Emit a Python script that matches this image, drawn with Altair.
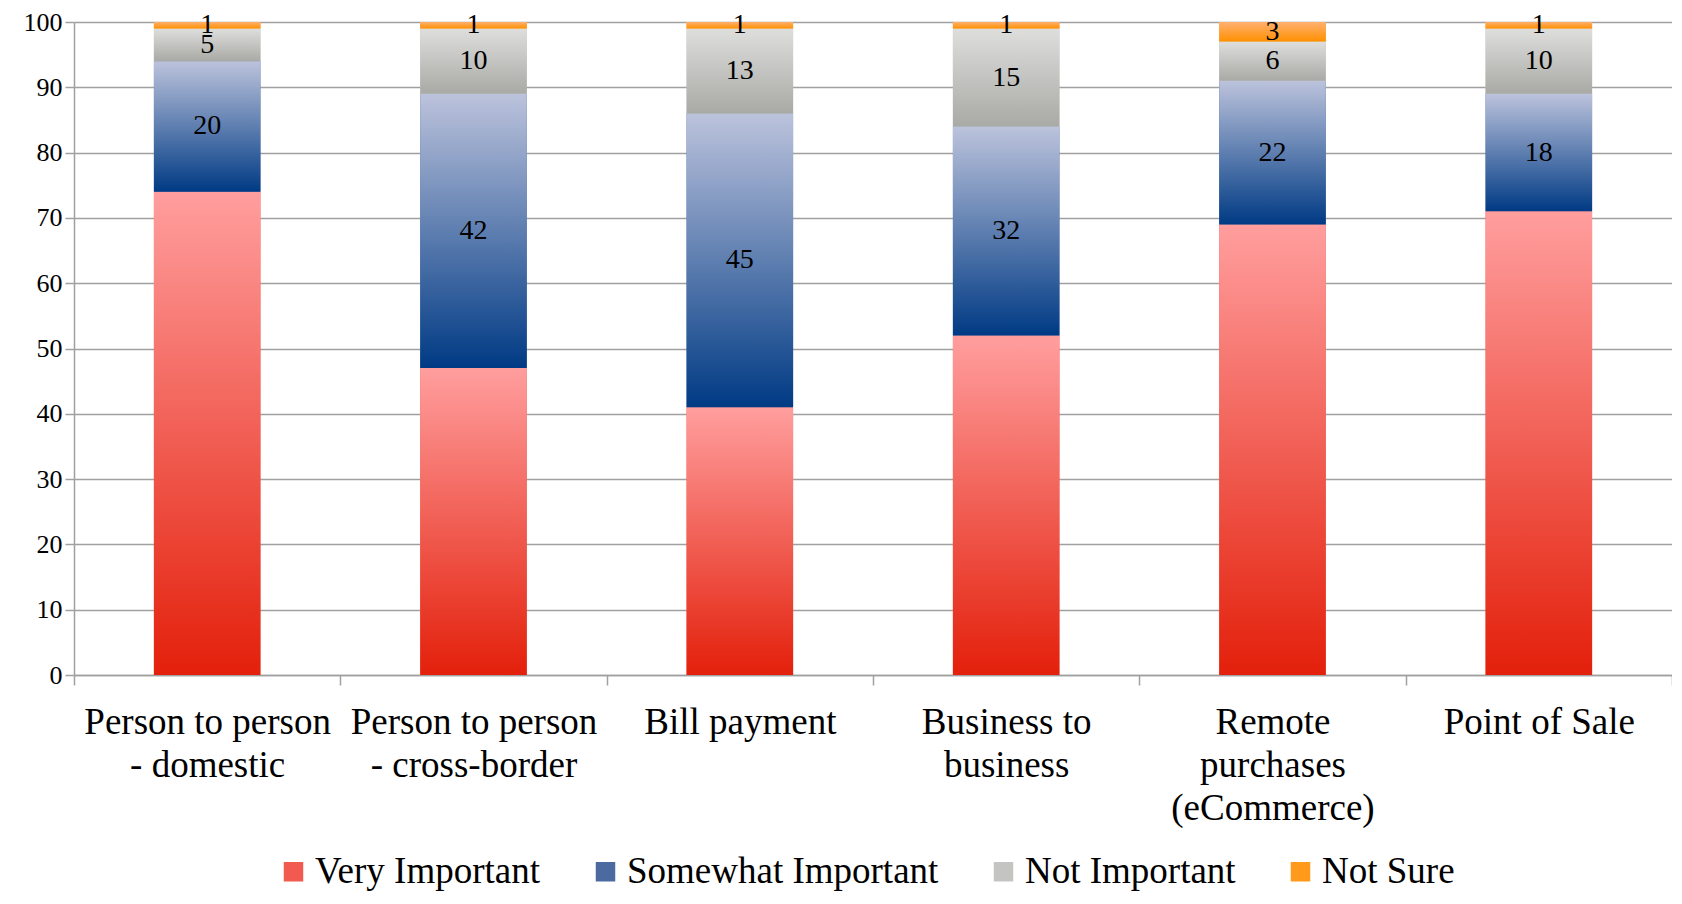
import altair as alt
import pandas as pd

categories = [
    "Person to person\n- domestic",
    "Person to person\n- cross-border",
    "Bill payment",
    "Business to\nbusiness",
    "Remote\npurchases\n(eCommerce)",
    "Point of Sale",
]
series = ["Very Important", "Somewhat Important", "Not Important", "Not Sure"]
very_important = [74, 47, 41, 52, 69, 71]
somewhat_important = [20, 42, 45, 32, 22, 18]
not_important = [5, 10, 13, 15, 6, 10]
not_sure = [1, 1, 1, 1, 3, 1]

solid = ["#F25A50", "#4A6AA0", "#C4C4C2", "#FF9A1A"]
grad_top = ["#FF9E9E", "#BCC3DC", "#DEDEDD", "#FFB070"]
grad_bot = ["#E3200B", "#003A84", "#A9A9A5", "#FF9000"]

rows = []
for si, (name, vals) in enumerate(zip(series, [very_important, somewhat_important, not_important, not_sure])):
    for c, v in zip(categories, vals):
        rows.append({"category": c, "series": name, "value": v, "order": si})
df = pd.DataFrame(rows)

FONT = "Liberation Serif"
BAR_W = alt.RelativeBandSize(0.4)

base = alt.Chart(df).transform_stack(
    stack="value", groupby=["category"], as_=["y0", "y1"], sort=[alt.SortField("order", "ascending")]
)

x_enc = alt.X(
    "category:N",
    sort=categories,
    scale=alt.Scale(paddingInner=0, paddingOuter=0),
    axis=alt.Axis(
        title=None,
        labelExpr="split(datum.label, '\\n')",
        labelAngle=0,
        labelFont=FONT,
        labelFontSize=37,
        labelLineHeight=43,
        labelColor="black",
        labelPadding=19,
        labelBaseline="top",
        labelLimit=400,
        tickBand="extent",
        tickSize=10,
        tickColor="#A0A0A0",
        tickWidth=1.5,
        domainColor="#A0A0A0",
        domainWidth=1.5,
        grid=False,
    ),
)
y_enc = alt.Y(
    "y0:Q",
    scale=alt.Scale(domain=[0, 100], nice=False),
    axis=alt.Axis(
        title=None,
        values=list(range(0, 101, 10)),
        labelFont=FONT,
        labelFontSize=26,
        labelColor="black",
        labelPadding=3,
        tickSize=9,
        tickColor="#A0A0A0",
        tickWidth=1.5,
        domainColor="#A0A0A0",
        domainWidth=1.5,
        gridColor="#A0A0A0",
        gridWidth=1.5,
    ),
)

legend_layer = base.mark_bar(width=BAR_W).encode(
    x=x_enc,
    y=y_enc,
    y2="y1:Q",
    color=alt.Color(
        "series:N",
        sort=series,
        scale=alt.Scale(domain=series, range=solid),
        legend=alt.Legend(
            title=None,
            orient="none",
            legendX=201,
            legendY=831,
            direction="horizontal",
            labelFont=FONT,
            labelFontSize=37,
            labelColor="black",
            labelOffset=3,
            symbolType="square",
            symbolSize=380,
            symbolStrokeWidth=0,
            columnPadding=46,
            labelLimit=500,
        ),
    ),
)

layers = [legend_layer]
for si, name in enumerate(series):
    gradient = alt.LinearGradient(
        gradient="linear",
        x1=0, y1=0, x2=0, y2=1,
        stops=[
            alt.GradientStop(offset=0, color=grad_top[si]),
            alt.GradientStop(offset=1, color=grad_bot[si]),
        ],
    )
    layers.append(
        base.transform_filter(alt.datum.series == name)
        .mark_bar(fill=gradient, width=BAR_W)
        .encode(x=alt.X("category:N", sort=categories), y="y0:Q", y2="y1:Q")
    )

text_layer = (
    base.transform_filter(alt.datum.series != "Very Important")
    .transform_calculate(mid="(datum.y0 + datum.y1) / 2")
    .mark_text(font=FONT, fontSize=28, color="black", baseline="middle", align="center")
    .encode(x=alt.X("category:N", sort=categories), y="mid:Q", text="value:Q")
)
layers.append(text_layer)

chart = (
    alt.layer(*layers)
    .properties(
        width=1598,
        height=653,
        autosize=alt.AutoSizeParams(type="none"),
        padding={"left": 66, "right": 0, "top": 14, "bottom": 221},
    )
    .configure_view(stroke=None)
)

chart.save("out.html", embed_options={"renderer": "svg", "actions": False})
